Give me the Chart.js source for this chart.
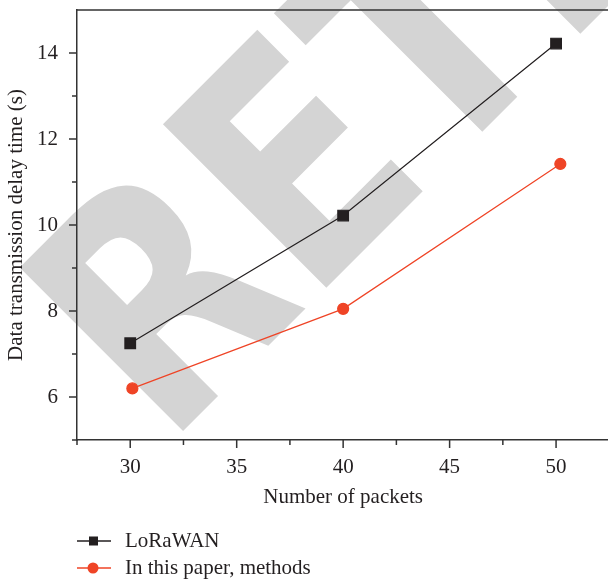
<!DOCTYPE html>
<html>
<head>
<meta charset="utf-8">
<script src="https://cdn.jsdelivr.net/npm/chart.js@4.4.0/dist/chart.umd.min.js"></script>
<style>
html, body { margin: 0; padding: 0; background: #fff; overflow: hidden; }
#wrap { width: 618px; height: 580px; }
</style>
</head>
<body>
<div id="wrap"><canvas id="delay_chart" width="618" height="580"></canvas></div>
<script>
// values
let seriesNames = ["LoRaWAN", "In this paper, methods"]
let loraX = [30, 40, 50]
let loraDelay = [7.25, 10.22, 14.22]
let paperX = [30.1, 40, 50.2]
let paperDelay = [6.2, 8.05, 11.42]
let xLabels = [30, 35, 40, 45, 50]
let yLabels = [6, 8, 10, 12, 14]
let xTitle = "Number of packets"
let yTitle = "Data transmission delay time (s)"
let watermark = "RETRACTED"

const serif = "'Liberation Serif', 'DejaVu Serif', serif"
const ink = "#231f20"
const red = "#ef4426"
const axisColor = "#333333"

let toPoints = (xs, ys) => xs.map((x, i) => ({ x: x, y: ys[i] }))

// big grey stamp behind everything
const stampPlugin = {
    id: "stamp",
    beforeDraw(chart) {
        const ctx = chart.ctx
        ctx.save()
        ctx.translate(166, 448)
        ctx.rotate(-Math.PI / 4)
        ctx.scale(0.83, 1)
        ctx.font = "bold 317px 'DejaVu Sans', 'Liberation Sans', sans-serif"
        ctx.fillStyle = "#d4d4d4"
        ctx.textBaseline = "alphabetic"
        ctx.fillText(watermark, 0, 0)
        ctx.restore()
    }
}

// outward tick marks (long on labelled values, short between) + top frame line
const framePlugin = {
    id: "frame",
    afterDraw(chart) {
        const ctx = chart.ctx
        const area = chart.chartArea
        const xs = chart.scales.x
        const ys = chart.scales.y
        ctx.save()
        ctx.strokeStyle = axisColor
        ctx.lineWidth = 1.5
        ctx.beginPath()
        ctx.moveTo(area.left, area.top)
        ctx.lineTo(area.right, area.top)
        xs.ticks.forEach(t => {
            let px = xs.getPixelForValue(t.value)
            let len = xLabels.includes(t.value) ? 8 : 5
            ctx.moveTo(px, area.bottom)
            ctx.lineTo(px, area.bottom + len)
        })
        ys.ticks.forEach(t => {
            if (t.value >= 15) return
            let py = ys.getPixelForValue(t.value)
            let len = yLabels.includes(t.value) ? 8 : 5
            ctx.moveTo(area.left, py)
            ctx.lineTo(area.left - len, py)
        })
        ctx.stroke()
        ctx.restore()
    }
}

// legend: line - marker - line, then the name
const legendPlugin = {
    id: "lineLegend",
    afterDraw(chart) {
        const ctx = chart.ctx
        const rows = [541, 568]
        ctx.save()
        chart.data.datasets.forEach((ds, i) => {
            let y = rows[i]
            ctx.strokeStyle = ds.borderColor
            ctx.lineWidth = 1.5
            ctx.beginPath()
            ctx.moveTo(77, y)
            ctx.lineTo(111, y)
            ctx.stroke()
            ctx.fillStyle = ds.pointBackgroundColor
            if (ds.pointStyle === "rect") {
                ctx.fillRect(89, y - 4.5, 9, 9)
            } else {
                ctx.beginPath()
                ctx.arc(93, y, 5.5, 0, Math.PI * 2)
                ctx.fill()
            }
            ctx.fillStyle = ink
            ctx.font = "21px " + serif
            ctx.textBaseline = "middle"
            ctx.fillText(ds.label, 125, y)
        })
        ctx.restore()
    }
}

new Chart("delay_chart", {
    type: "line",
    data: {
        datasets: [{
            label: seriesNames[0],
            data: toPoints(loraX, loraDelay),
            borderColor: ink,
            backgroundColor: ink,
            pointBackgroundColor: ink,
            pointBorderColor: ink,
            pointStyle: "rect",
            pointRadius: 7.5,
            borderWidth: 1.2,
            tension: 0
        }, {
            label: seriesNames[1],
            data: toPoints(paperX, paperDelay),
            borderColor: red,
            backgroundColor: red,
            pointBackgroundColor: red,
            pointBorderColor: red,
            pointStyle: "circle",
            pointRadius: 5.5,
            borderWidth: 1.2,
            tension: 0
        }]
    },
    options: {
        responsive: false,
        animation: false,
        layout: { padding: { top: 10, right: 3, bottom: 70, left: 0 } },
        plugins: {
            legend: { display: false },
            tooltip: { enabled: false }
        },
        scales: {
            x: {
                type: "linear",
                min: 27.5,
                max: 52.5,
                afterFit: (s) => { s.height = 70; s.paddingLeft = 0; s.paddingRight = 0 },
                border: { display: true, color: axisColor, width: 1.5 },
                grid: { drawOnChartArea: false, drawTicks: false, color: "rgba(0,0,0,0)" },
                ticks: {
                    stepSize: 2.5,
                    padding: 15,
                    color: ink,
                    font: { family: serif, size: 21 },
                    autoSkip: false,
                    maxRotation: 0,
                    callback: (v) => xLabels.includes(v) ? String(v) : ""
                },
                title: {
                    display: true,
                    text: xTitle,
                    color: ink,
                    font: { family: serif, size: 21 },
                    padding: { top: 0, bottom: 0 }
                }
            },
            y: {
                min: 5,
                max: 15,
                afterFit: (s) => { s.width = 77; s.paddingTop = 0; s.paddingBottom = 0 },
                border: { display: true, color: axisColor, width: 1.5 },
                grid: { drawOnChartArea: false, drawTicks: false, color: "rgba(0,0,0,0)" },
                ticks: {
                    stepSize: 1,
                    padding: 19,
                    color: ink,
                    font: { family: serif, size: 21 },
                    autoSkip: false,
                    callback: (v) => yLabels.includes(v) ? String(v) : ""
                },
                title: {
                    display: true,
                    text: yTitle,
                    color: ink,
                    font: { family: serif, size: 21 },
                    padding: { top: 4, bottom: 0 }
                }
            }
        }
    },
    plugins: [stampPlugin, framePlugin, legendPlugin]
});
</script>
</body>
</html>
